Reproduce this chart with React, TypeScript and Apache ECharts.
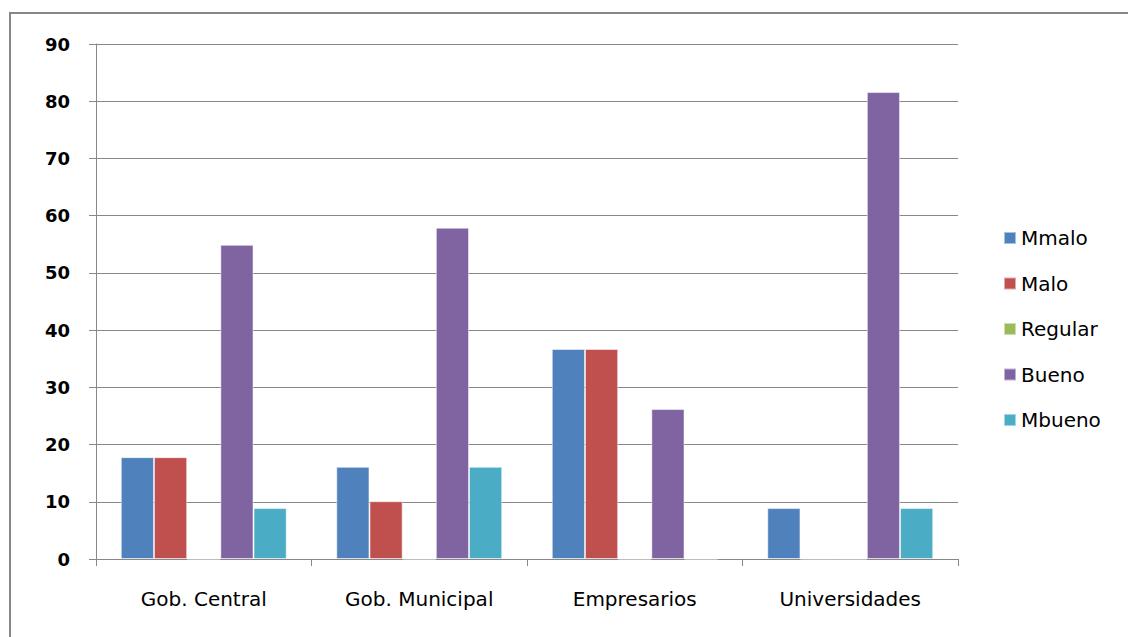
import React, { useEffect, useRef } from "react";
import * as echarts from "echarts";

const categories = ["Gob. Central", "Gob. Municipal", "Empresarios", "Universidades"];
const seriesNames = ["Mmalo", "Malo", "Regular", "Bueno", "Mbueno"];
const mmalo = [17.8, 16.1, 36.7, 8.9];
const malo = [17.8, 10.1, 36.7, 0];
const regular = [0, 0, 0, 0];
const bueno = [54.9, 57.9, 26.2, 81.6];
const mbueno = [8.9, 16.1, 0, 8.9];
const yTicks = [0, 10, 20, 30, 40, 50, 60, 70, 80, 90];

const colors = ["#4F81BD", "#C0504D", "#9BBB59", "#8064A2", "#4BACC6"];
const font = "DejaVu Sans";

export default function App() {
  const ref = useRef<HTMLDivElement>(null);
  useEffect(() => {
    if (!ref.current) return;
    const chart = echarts.init(ref.current, null, { renderer: "svg" });
    const values = [mmalo, malo, regular, bueno, mbueno];
    chart.setOption({
      animation: false,
      color: colors,
      textStyle: { fontFamily: font },
      graphic: [
        {
          type: "rect",
          shape: { x: 10, y: 13, width: 1200, height: 700 },
          style: { fill: "none", stroke: "#878787", lineWidth: 2 },
          silent: true,
        },
      ],
      legend: {
        orient: "vertical",
        left: 998,
        top: 223,
        itemWidth: 12,
        itemHeight: 12,
        itemGap: 25.5,
        icon: "rect",
        textStyle: { fontSize: 20, lineHeight: 20, color: "#000", fontFamily: font },
        data: seriesNames,
      },
      grid: { left: 96, right: 170, top: 44, bottom: 78, containLabel: false },
      xAxis: {
        type: "category",
        data: categories,
        axisLine: { lineStyle: { color: "#888", width: 1 } },
        axisTick: { show: true, length: 7, lineStyle: { color: "#888" } },
        axisLabel: { fontSize: 20, color: "#000", margin: 30, fontFamily: font },
      },
      yAxis: {
        type: "value",
        min: 0,
        max: 90,
        interval: 10,
        axisLine: { show: true, lineStyle: { color: "#888", width: 1 } },
        axisTick: { show: true, length: 7, lineStyle: { color: "#888" } },
        splitLine: { show: true, lineStyle: { color: "#888", width: 1 } },
        axisLabel: {
          fontSize: 18,
          fontWeight: "bold",
          color: "#000",
          margin: 26,
          fontFamily: font,
          formatter: (v: number) => (yTicks.includes(v) ? String(v) : ""),
        },
      },
      series: seriesNames.map((name, i) => ({
        name,
        type: "bar",
        data: values[i],
        barGap: "0%",
        barCategoryGap: "23%",
        itemStyle: { color: colors[i], borderColor: "rgba(255,255,255,0.5)", borderWidth: 1 },
      })),
    });
    return () => chart.dispose();
  }, []);
  return (
    <div
      ref={ref}
      style={{ position: "fixed", left: 0, top: 0, width: 1128, height: 637, background: "#fff" }}
    />
  );
}
